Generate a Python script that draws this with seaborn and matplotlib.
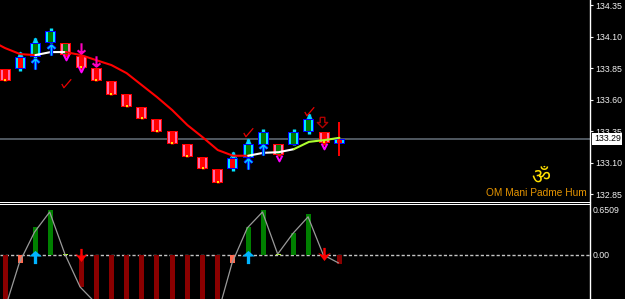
import numpy as np
import pandas as pd
import seaborn as sns
import matplotlib
matplotlib.use("Agg")
import matplotlib.pyplot as plt
from matplotlib.path import Path

sns.set_theme(style="dark", rc={"axes.facecolor": "black", "figure.facecolor": "black"})
plt.rcParams["font.family"] = ["Liberation Sans", "Noto Sans", "DejaVu Sans"]

# Candle bodies and wicks, in price units
body_low = [133.747, 133.842, 133.937, 134.048, 133.953, 133.85, 133.747, 133.636, 133.54, 133.445, 133.342, 133.247,
            133.144, 133.048, 132.937, 133.048, 133.136, 133.239, 133.16, 133.239, 133.342, 133.255, 133.247]
body_high = [133.842, 133.937, 134.048, 134.144, 134.048, 133.945, 133.85, 133.747, 133.644, 133.54, 133.445, 133.35,
             133.247, 133.144, 133.048, 133.136, 133.247, 133.342, 133.247, 133.342, 133.445, 133.342, 133.286]
wick_low = [133.747, 133.826, 133.921, 134.048, 133.94, 133.826, 133.747, 133.636, 133.54, 133.445, 133.342, 133.247,
            133.144, 133.048, 132.937, 133.033, 133.12, 133.239, 133.15, 133.239, 133.326, 133.24, 133.152]
wick_high = [133.842, 133.977, 134.088, 134.167, 134.048, 133.945, 133.85, 133.747, 133.644, 133.54, 133.445, 133.35,
             133.247, 133.144, 133.048, 133.183, 133.286, 133.366, 133.247, 133.366, 133.485, 133.342, 133.421]
# b = falling, g = rising, c = red body in a cyan frame, p = green body in a pink frame
candle_kind = list("bcggpbbbbbbbbbbcggpggbc")
hat_idx = [1, 2, 15, 16, 20]

# Moving average and the stretch of bars each colour covers
ma_index = [-1, 0, 1, 2, 3, 4, 5, 6, 7, 8, 9, 10, 11, 12, 13, 14, 15, 16, 17, 18, 19, 20, 21, 22]
ma_value = [134.072, 134.009, 133.961, 133.953, 133.977, 133.977, 133.953, 133.913, 133.874, 133.81, 133.715, 133.62,
            133.517, 133.398, 133.302, 133.2, 133.155, 133.155, 133.178, 133.183, 133.207, 133.265, 133.279, 133.297]
ma_runs = [(-1, 2, "#ff0000"), (2, 4, "#ffffff"), (4, 16, "#ff0000"), (16, 19, "#ffffff"), (19, 22, "#adff2f")]

# Signal marks on the price panel
up_idx, up_price = [2, 3, 16, 17], [133.882, 133.993, 133.092, 133.2]
down_idx, down_price = [5, 6], [134.009, 133.906]
hollow_idx, hollow_price = [20.86], [133.421]
vee_idx, vee_price = [4, 5, 18, 21], [133.937, 133.842, 133.136, 133.231]
check_idx, check_price = [4, 16, 20], [133.731, 133.342, 133.509]

# Oscillator panel
osc_bar = [-0.82, -0.116, 0.405, 0.651, 0.012, -0.463, -0.69, -0.8, -0.8, -0.8, -0.8, -0.8, -0.8, -0.8, -0.9,
           -0.116, 0.405, 0.651, 0.012, 0.318, 0.593, 0.005, -0.13]
osc_line = [-0.82, -0.116, 0.33, 0.62, 0.012, -0.463, -0.69, -0.8, -0.8, -0.8, -0.8, -0.8, -0.8, -0.8, -0.9,
            -0.116, 0.39, 0.62, 0.012, 0.31, 0.55, 0.0, -0.116]
osc_up_idx, osc_up_val = [2, 16], [-0.03, -0.03]
osc_down_idx, osc_down_val = [5, 21], [0.0, 0.01]

price_ticks = [134.35, 134.10, 133.85, 133.60, 133.35, 133.10, 132.85]
last_price = 133.29
osc_ticks = [0.6509, 0.0]
osc_labels = ["0.6509", "0.00"]

W, H = 625, 299
fig = plt.figure(figsize=(W / 100, H / 100), dpi=100, facecolor="black")
ax = fig.add_axes([0, 1 - 201.5 / H, 590 / W, 201.5 / H], facecolor="black")
osc = fig.add_axes([0, 0, 590 / W, 1 - 203.5 / H], facecolor="black")
xlim = (-0.329, 38.487)
ax.set_xlim(*xlim)
osc.set_xlim(*xlim)
ax.set_ylim(132.792, 134.39)
osc.set_ylim(-0.637, 0.743)

PX = 1 / 15.2  # one pixel, in bar units
FRAMES = {
    "b": ("#ff0000", "#ff6aa8", "#ff0000"),
    "g": ("#0000ff", "#00e5ff", "#007a00"),
    "c": ("#0000ff", "#00e5ff", "#ff0000"),
    "p": ("#ff0000", "#ff6aa8", "#007a00"),
}
x = np.arange(len(body_low))
low, high = np.array(body_low), np.array(body_high)

# Wicks first, then the nested body rectangles
for i, kind in enumerate(candle_kind):
    if i < 22:
        wick = "#00e5ff" if kind in "gc" else "#ff0000"
        ax.vlines(i, wick_low[i], wick_high[i], color=wick, lw=2.4, zorder=3)
    outer, mid, inner = FRAMES[kind]
    ax.bar(i, high[i] - low[i], bottom=low[i], width=11 * PX, color=outer, lw=0, zorder=4)
    ax.bar(i, high[i] - low[i] - 0.012, bottom=low[i] + 0.006, width=9 * PX, color=mid, lw=0, zorder=5)
    ax.bar(i, high[i] - low[i] - 0.012, bottom=low[i] + 0.006, width=5 * PX, color=inner, lw=0, zorder=6)
ax.vlines(22, wick_low[22], wick_high[22], color="#ff0000", lw=1.4, zorder=7)

# Small yellow tick at the foot of each falling bar
foot = pd.DataFrame({"i": x, "p": low + 0.012, "k": candle_kind})
foot = foot[foot.k == "b"]
sns.scatterplot(data=foot, x="i", y="p", ax=ax, marker="s", s=4.5, color="#ffe000", linewidth=0, zorder=8, legend=False)

# Last-price line
ax.axhline(last_price, color="#505860", lw=1.4, zorder=2)

# Moving average, one piece per colour
ma = pd.DataFrame({"i": ma_index, "p": ma_value})
for a, b, colour in ma_runs:
    part = ma[(ma.i >= a) & (ma.i <= b)]
    sns.lineplot(data=part, x="i", y="p", ax=ax, color=colour, lw=1.5, estimator=None, sort=False, zorder=9, legend=False)

ARROW_UP = Path([(0, -1), (0, 1), (-0.75, 0.35), (0, 1), (0.75, 0.35)], [1, 2, 1, 2, 2])
ARROW_DOWN = Path([(0, 1), (0, -1), (-0.75, -0.35), (0, -1), (0.75, -0.35)], [1, 2, 1, 2, 2])
VEE = Path([(-1, 1), (0, -1), (1, 1)], [1, 2, 2])
HAT = Path([(-1, -1), (0, 1), (1, -1)], [1, 2, 2])
CHECK = Path([(-1, -0.1), (-0.55, -0.9), (1, 0.9)], [1, 2, 2])
HOLLOW = Path([(-0.45, 1), (0.45, 1), (0.45, 0), (1, 0), (0, -1), (-1, 0), (-0.45, 0), (-0.45, 1)],
              [1, 2, 2, 2, 2, 2, 2, 2])


def marks(axis, xs, ys, shape, size, colour, width, z=10):
    axis.plot(xs, ys, ls="", marker=shape, ms=size, mfc="none", mec=colour, mew=width, zorder=z)


marks(ax, hat_idx, [(wick_high[i] + body_high[i]) / 2 for i in hat_idx], HAT, 4.6, "#00c8ff", 0.9, 3)
marks(ax, up_idx, up_price, ARROW_UP, 7.5, "#0000ff", 2.4, 10)
marks(ax, up_idx, up_price, ARROW_UP, 7.5, "#00c8ff", 1.1, 11)
marks(ax, down_idx, down_price, ARROW_DOWN, 7.5, "#ff00c0", 1.5)
marks(ax, vee_idx, vee_price, VEE, 4.2, "#ff00ff", 1.4)
marks(ax, hollow_idx, hollow_price, HOLLOW, 7.4, "#b00000", 1.0)
marks(ax, check_idx, check_price, CHECK, 6.8, "#e80000", 0.9)

# Caption under the price panel
ax.text(541 / 590, 1 - 177 / 201.5, "\u0950", transform=ax.transAxes, color="#ffe000", fontsize=15,
        ha="center", va="center", zorder=12)
ax.text(536 / 590, 1 - 193 / 201.5, "OM Mani Padme Hum", transform=ax.transAxes, color="#e69500", fontsize=7.3,
        ha="center", va="center", zorder=12)

# Oscillator bars coloured by sign and depth
def bar_colour(v):
    if v >= 0.05:
        return "#008000"
    if v >= 0:
        return "#adff2f"
    if -0.125 < v < -0.1:
        return "#ff6a50"
    return "#8b0000"


for i, v in enumerate(osc_bar):
    osc.bar(i, v, width=5 * PX, color=bar_colour(v), lw=0, zorder=3)
osc.axhline(0, color="#c4c4c4", lw=1, dashes=(2.3, 1.5), zorder=2)
sns.lineplot(x=np.arange(len(osc_line)) - 0.06, y=osc_line, ax=osc, color="#9a9a9a", lw=0.9, estimator=None,
             sort=False, zorder=4, legend=False)

FILLED_UP = Path([(-0.25, -1), (-0.25, 0.15), (-0.95, 0.15), (0, 1), (0.95, 0.15), (0.25, 0.15), (0.25, -1), (-0.25, -1)],
                 [1, 2, 2, 2, 2, 2, 2, 2])
DOWN_FORK = Path([(-0.18, 1), (0.18, 1), (0.18, -0.1), (0.95, 0.25), (0, -1), (-0.95, 0.25), (-0.18, -0.1), (-0.18, 1)],
                 [1, 2, 2, 2, 2, 2, 2, 2])
osc.plot(osc_up_idx, osc_up_val, ls="", marker=FILLED_UP, ms=9.5, mfc="#00b4ff", mec="#00b4ff", mew=0, zorder=6)
osc.plot(osc_down_idx, osc_down_val, ls="", marker=DOWN_FORK, ms=9.5, mfc="#ff0000", mec="#ff0000", mew=0, zorder=6)

# Axis furniture
for axis, ticks, labels in [(ax, price_ticks, [f"{t:.2f}" for t in price_ticks]), (osc, osc_ticks, osc_labels)]:
    axis.grid(False)
    axis.set_xticks([])
    axis.set_xlabel("")
    axis.set_ylabel("")
    axis.yaxis.tick_right()
    axis.set_yticks(ticks)
    axis.set_yticklabels(labels)
    axis.tick_params(axis="y", colors="#f0f0f0", length=2.2 if axis is ax else 0, width=0.8, labelsize=6.3,
                     pad=1.6 if axis is ax else 2.0)
    for s in axis.spines.values():
        s.set_visible(False)
    axis.spines["right"].set_visible(True)
    axis.spines["right"].set_color("white")
    axis.spines["right"].set_linewidth(1.0)
ax.spines["bottom"].set_visible(True)
ax.spines["bottom"].set_color("white")
ax.spines["bottom"].set_linewidth(0.72)
osc.spines["top"].set_visible(True)
osc.spines["top"].set_color("white")
osc.spines["top"].set_linewidth(0.72)

# Last-price tag in the scale
ax.text(1.0065, last_price, f"{last_price:.2f}", transform=ax.get_yaxis_transform(), color="black", fontsize=6.3,
        ha="left", va="center", zorder=15, clip_on=False,
        bbox=dict(boxstyle="square,pad=0.18", fc="white", ec="white", lw=0))

fig.savefig("out.png", dpi=100, facecolor="black")
